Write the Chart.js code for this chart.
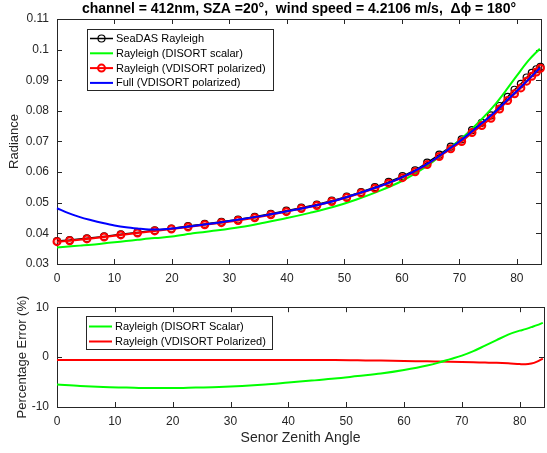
<!DOCTYPE html>
<html>
<head>
<meta charset="utf-8">
<script src="https://cdn.jsdelivr.net/npm/chart.js@4.4.1/dist/chart.umd.min.js"></script>
<style>
  html, body { margin: 0; padding: 0; background: #fff; }
  #wrap { position: relative; width: 547px; height: 453px; }
  #topChart { position: absolute; left: 0; top: 0; }
  #errChart { position: absolute; left: 0; top: 292px; }
</style>
</head>
<body>
<div id="wrap">
  <canvas id="topChart" width="547" height="292"></canvas>
  <canvas id="errChart" width="547" height="161"></canvas>
</div>
<script>
// sensor zenith angles of the marker series
const angles = [0, 2.2, 5.2, 8.2, 11.1, 14.0, 17.0, 19.9, 22.8, 25.7, 28.6, 31.5, 34.4, 37.2, 39.9,
  42.5, 45.2, 47.8, 50.4, 52.9, 55.3, 57.7, 60.1, 62.3, 64.4, 66.5, 68.5, 70.4, 72.2, 73.9,
  75.5, 77.0, 78.4, 79.6, 80.7, 81.7, 82.6, 83.4, 84.1]
const seadasRayleigh = [0.0375, 0.0378, 0.0384, 0.0390, 0.0397, 0.0403, 0.0410, 0.0416, 0.0424, 0.0431,
  0.0438, 0.0445, 0.0454, 0.0464, 0.0474, 0.0484, 0.0494, 0.0507, 0.0520, 0.0535,
  0.0551, 0.0568, 0.0587, 0.0606, 0.0631, 0.0657, 0.0683, 0.0707, 0.0737, 0.0761,
  0.0785, 0.0816, 0.0846, 0.0869, 0.0888, 0.0909, 0.0924, 0.0936, 0.0944]
const vdisortRayleigh = [0.0373, 0.0376, 0.0382, 0.0388, 0.0395, 0.0401, 0.0408, 0.0414, 0.0421, 0.0428,
  0.0435, 0.0442, 0.0451, 0.0461, 0.0471, 0.0481, 0.0491, 0.0504, 0.0517, 0.0532,
  0.0547, 0.0564, 0.0582, 0.0601, 0.0625, 0.0651, 0.0676, 0.0700, 0.0729, 0.0752,
  0.0776, 0.0806, 0.0834, 0.0856, 0.0875, 0.0897, 0.0913, 0.0927, 0.0939]

// angles of the two plain curves
const curveAngles = [0, 2, 4, 6, 8, 10, 12, 14, 16, 18, 20, 24, 28, 32, 36, 40, 44, 48, 52, 56,
  60, 64, 66, 68, 70, 72, 74, 76, 78, 80, 82, 84]
const disortScalar = [0.0354, 0.0357, 0.0360, 0.0363, 0.0367, 0.0371, 0.0375, 0.0379, 0.0383, 0.0386,
  0.0390, 0.0401, 0.0410, 0.0421, 0.0435, 0.0450, 0.0467, 0.0486, 0.0510, 0.0538,
  0.0571, 0.0615, 0.0643, 0.0674, 0.0704, 0.0738, 0.0775, 0.0816, 0.0864, 0.0915, 0.0964, 0.1003]
const fullVdisort = [0.0482, 0.0466, 0.0453, 0.0443, 0.0434, 0.0426, 0.0420, 0.0416, 0.0413, 0.0413,
  0.0416, 0.0425, 0.0435, 0.0446, 0.0458, 0.0472, 0.0487, 0.0505, 0.0528, 0.0553,
  0.0583, 0.0622, 0.0646, 0.0673, 0.0700, 0.0730, 0.0761, 0.0793, 0.0829, 0.0865, 0.0902, 0.0940]

// percentage error panel
const errAngles = [0, 4, 8, 12, 16, 20, 24, 28, 32, 36, 40, 44, 48, 52, 56, 60, 64, 66, 68, 70,
  72, 74, 76, 78, 80, 81, 82, 83, 84]
const errScalar = [-5.5, -5.8, -6.0, -6.1, -6.2, -6.2, -6.1, -6.0, -5.8, -5.5, -5.1, -4.7, -4.3, -3.8, -3.3,
  -2.6, -1.7, -1.1, -0.4, 0.3, 1.2, 2.3, 3.4, 4.5, 5.3, 5.6, 6.0, 6.4, 6.85]
const errPolarized = [-0.6, -0.6, -0.6, -0.6, -0.6, -0.6, -0.6, -0.6, -0.6, -0.6, -0.6, -0.6, -0.6, -0.65, -0.7,
  -0.8, -0.85, -0.9, -0.95, -1.0, -1.05, -1.1, -1.15, -1.25, -1.4, -1.45, -1.3, -0.9, -0.3]

// ticks
const angleTicks = [0, 10, 20, 30, 40, 50, 60, 70, 80]
const radianceTicks = [0.03, 0.04, 0.05, 0.06, 0.07, 0.08, 0.09, 0.1, 0.11]
const errTicks = [-10, 0, 10]

const pts = (xs, ys) => xs.map((x, i) => ({ x: x, y: ys[i] }))

Chart.defaults.font.family = '"Liberation Sans", Arial, sans-serif'
Chart.defaults.color = '#262626'
Chart.defaults.animation = false

// box and inward ticks like a matlab axes
const matlabFrame = {
  id: 'matlabFrame',
  beforeDatasetsDraw(chart) {
    const { ctx, chartArea: a, scales } = chart
    const len = 5
    ctx.save()
    ctx.strokeStyle = '#262626'
    ctx.lineWidth = 1
    ctx.beginPath()
    scales.x.ticks.forEach(t => {
      const px = Math.round(scales.x.getPixelForValue(t.value)) + 0.5
      ctx.moveTo(px, a.bottom); ctx.lineTo(px, a.bottom - len)
      ctx.moveTo(px, a.top); ctx.lineTo(px, a.top + len)
    })
    scales.y.ticks.forEach(t => {
      const py = Math.round(scales.y.getPixelForValue(t.value)) + 0.5
      ctx.moveTo(a.left, py); ctx.lineTo(a.left + len, py)
      ctx.moveTo(a.right, py); ctx.lineTo(a.right - len, py)
    })
    ctx.stroke()
    ctx.strokeRect(Math.round(a.left) + 0.5, Math.round(a.top) + 0.5,
      Math.round(a.right - a.left), Math.round(a.bottom - a.top))
    ctx.restore()
  }
}

// legend box inside the plot
const boxLegend = {
  id: 'boxLegend',
  afterDraw(chart, args, o) {
    const { ctx, chartArea: a } = chart
    const x0 = Math.round(a.left + o.dx) + 0.5
    const y0 = Math.round(a.top + o.dy) + 0.5
    ctx.save()
    ctx.fillStyle = '#fff'
    ctx.fillRect(x0, y0, o.width, o.height)
    ctx.strokeStyle = '#262626'
    ctx.lineWidth = 1
    ctx.strokeRect(x0, y0, o.width, o.height)
    ctx.font = o.font
    ctx.textBaseline = 'middle'
    chart.data.datasets.forEach((ds, i) => {
      const ry = y0 + o.firstRow + i * o.rowGap
      ctx.strokeStyle = ds.borderColor
      ctx.lineWidth = ds.borderWidth
      ctx.beginPath()
      ctx.moveTo(x0 + 2.5, ry)
      ctx.lineTo(x0 + 25.5, ry)
      ctx.stroke()
      if (ds.pointRadius > 0) {
        ctx.lineWidth = ds.pointBorderWidth
        ctx.strokeStyle = ds.pointBorderColor
        ctx.beginPath()
        ctx.arc(x0 + 14, ry, ds.pointRadius, 0, 2 * Math.PI)
        ctx.stroke()
      }
      ctx.fillStyle = '#000'
      ctx.fillText(ds.label, x0 + 28.5, ry + 0.5)
    })
    ctx.restore()
  }
}

const xAxis = (height, withTitle) => ({
  type: 'linear',
  min: 0,
  max: 84.2,
  grid: { display: false, drawTicks: false },
  border: { display: false },
  afterBuildTicks: s => { s.ticks = angleTicks.map(v => ({ value: v })) },
  afterFit: s => { s.height = height },
  ticks: { padding: 7, font: { size: 12 } },
  title: withTitle
    ? { display: true, text: 'Senor Zenith Angle', font: { size: 14 }, padding: { top: 0, bottom: 6 } }
    : { display: false }
})

new Chart(document.getElementById('topChart'), {
  type: 'scatter',
  data: {
    datasets: [{
      label: 'SeaDAS Rayleigh',
      data: pts(angles, seadasRayleigh),
      showLine: true,
      borderColor: '#000',
      borderWidth: 1.5,
      pointRadius: 3.5,
      pointBorderWidth: 1.2,
      pointBorderColor: '#000',
      pointBackgroundColor: 'rgba(0,0,0,0)',
      order: 4
    }, {
      label: 'Rayleigh (DISORT scalar)',
      data: pts(curveAngles, disortScalar),
      showLine: true,
      borderColor: '#00ff00',
      borderWidth: 2,
      pointRadius: 0,
      cubicInterpolationMode: 'monotone',
      order: 3
    }, {
      label: 'Rayleigh (VDISORT polarized)',
      data: pts(angles, vdisortRayleigh),
      showLine: true,
      borderColor: '#ff0000',
      borderWidth: 2,
      pointRadius: 3.5,
      pointBorderWidth: 2,
      pointBorderColor: '#ff0000',
      pointBackgroundColor: 'rgba(255,0,0,0.25)',
      order: 2
    }, {
      label: 'Full (VDISORT polarized)',
      data: pts(curveAngles, fullVdisort),
      showLine: true,
      borderColor: '#0000ff',
      borderWidth: 2,
      pointRadius: 0,
      cubicInterpolationMode: 'monotone',
      order: 1
    }]
  },
  options: {
    responsive: false,
    clip: false,
    layout: { padding: { left: 0, right: 3, top: 0, bottom: 0 } },
    plugins: {
      legend: { display: false },
      tooltip: { enabled: false },
      title: {
        display: true,
        fullSize: false,
        text: 'channel = 412nm, SZA =20°,  wind speed = 4.2106 m/s,  \u0394\u03d5 = 180°',
        color: '#000',
        font: { size: 14, weight: 'bold' },
        padding: { top: 1, bottom: 1.2 }
      },
      boxLegend: { dx: 29.5, dy: 9.7, width: 186, height: 61, firstRow: 9, rowGap: 14.8, font: '11px "Liberation Sans", Arial, sans-serif' }
    },
    scales: {
      x: xAxis(28, false),
      y: {
        type: 'linear',
        min: 0.03,
        max: 0.11,
        grid: { display: false, drawTicks: false },
        border: { display: false },
        afterBuildTicks: s => { s.ticks = radianceTicks.map(v => ({ value: v })) },
        afterFit: s => { s.width = 57 },
        ticks: { padding: 8, font: { size: 12 }, callback: v => String(Number(v.toFixed(2))) },
        title: { display: true, text: 'Radiance', font: { size: 13 }, padding: { top: 7, bottom: 0 } }
      }
    }
  },
  plugins: [matlabFrame, boxLegend]
})

new Chart(document.getElementById('errChart'), {
  type: 'scatter',
  data: {
    datasets: [{
      label: 'Rayleigh (DISORT Scalar)',
      data: pts(errAngles, errScalar),
      showLine: true,
      borderColor: '#00ff00',
      borderWidth: 2,
      pointRadius: 0,
      cubicInterpolationMode: 'monotone'
    }, {
      label: 'Rayleigh (VDISORT Polarized)',
      data: pts(errAngles, errPolarized),
      showLine: true,
      borderColor: '#ff0000',
      borderWidth: 2,
      pointRadius: 0,
      cubicInterpolationMode: 'monotone'
    }]
  },
  options: {
    responsive: false,
    clip: false,
    layout: { padding: { left: 0, right: 3, top: 12, bottom: 0 } },
    plugins: {
      legend: { display: false },
      tooltip: { enabled: false },
      boxLegend: { dx: 29, dy: 8.4, width: 186, height: 33, firstRow: 10, rowGap: 15, font: '11px "Liberation Sans", Arial, sans-serif' }
    },
    scales: {
      x: xAxis(46, true),
      y: {
        type: 'linear',
        min: -10,
        max: 10,
        grid: { display: false, drawTicks: false },
        border: { display: false },
        afterBuildTicks: s => { s.ticks = errTicks.map(v => ({ value: v })) },
        afterFit: s => { s.width = 57 },
        ticks: { padding: 8, font: { size: 12 } },
        title: { display: true, text: 'Percentage Error (%)', font: { size: 13 }, padding: { top: 15, bottom: 0 } }
      }
    }
  },
  plugins: [matlabFrame, boxLegend]
})
</script>
</body>
</html>
